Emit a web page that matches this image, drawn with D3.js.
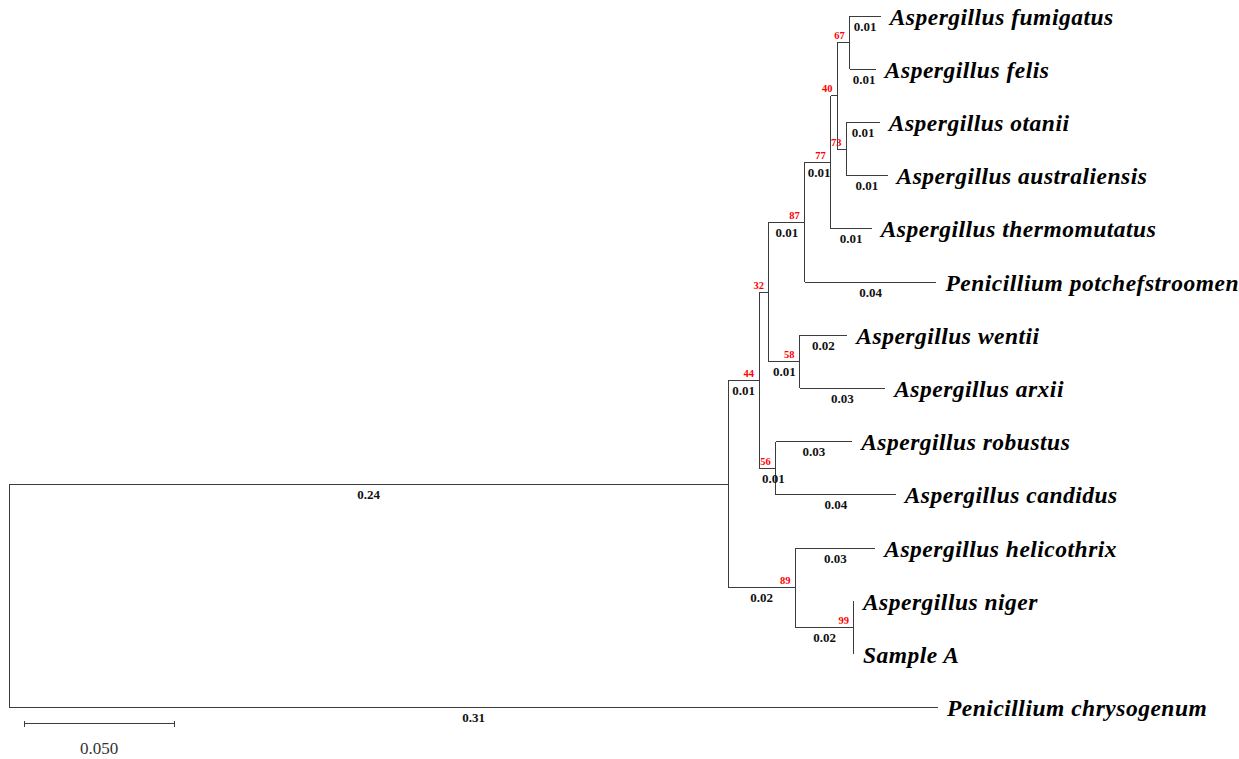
<!DOCTYPE html>
<html>
<head>
<meta charset="utf-8">
<script src="https://cdn.jsdelivr.net/npm/d3@7"></script>
<style>
  html, body { margin: 0; padding: 0; background: #fff; overflow: hidden; }
  svg { display: block; }
</style>
</head>
<body>
<svg id="tree" width="1239" height="759"></svg>
<script>
// Leaf order, top to bottom
const taxa = [
  "Aspergillus fumigatus",
  "Aspergillus felis",
  "Aspergillus otanii",
  "Aspergillus australiensis",
  "Aspergillus thermomutatus",
  "Penicillium potchefstroomensis",
  "Aspergillus wentii",
  "Aspergillus arxii",
  "Aspergillus robustus",
  "Aspergillus candidus",
  "Aspergillus helicothrix",
  "Aspergillus niger",
  "Sample A",
  "Penicillium chrysogenum"
];

// Tree topology: node id, parent id, branch length (substitutions/site), bootstrap support
const nodeIds = [
  "root", "ingroup", "Penicillium chrysogenum",
  "n44", "n89", "n32", "n56", "n87", "n58", "n77",
  "Penicillium potchefstroomensis", "n40", "Aspergillus thermomutatus",
  "n67", "n73",
  "Aspergillus fumigatus", "Aspergillus felis",
  "Aspergillus otanii", "Aspergillus australiensis",
  "Aspergillus wentii", "Aspergillus arxii",
  "Aspergillus robustus", "Aspergillus candidus",
  "Aspergillus helicothrix", "n99",
  "Aspergillus niger", "Sample A"
];
const parentIds = [
  "", "root", "root",
  "ingroup", "ingroup", "n44", "n44", "n32", "n32", "n87",
  "n87", "n77", "n77",
  "n40", "n40",
  "n67", "n67",
  "n73", "n73",
  "n58", "n58",
  "n56", "n56",
  "n89", "n89",
  "n99", "n99"
];
const branchLengths = [
  0, 0.2395, 0.3094,
  0.0103, 0.0224, 0.0033, 0.0056, 0.0119, 0.0102, 0.0087,
  0.0439, 0.0022, 0.0136,
  0.0041, 0.0030,
  0.0103, 0.0087,
  0.0111, 0.0137,
  0.0159, 0.0285,
  0.0254, 0.0399,
  0.0266, 0.0195,
  0, 0
];
const bootstrap = [
  null, null, null,
  44, 89, 32, 56, 87, 58, 77,
  null, 40, null,
  67, 73,
  null, null,
  null, null,
  null, null,
  null, null,
  null, 99,
  null, null
];
const scaleBarValue = 0.05;
const scaleBarLabel = "0.050";

const rows = nodeIds.map((id, i) => ({
  id, parent: parentIds[i] || null, length: branchLengths[i], support: bootstrap[i]
}));
const root = d3.stratify().id(d => d.id).parentId(d => d.parent)(rows);

// Cumulative distance from root
root.each(n => { n.dist = n.parent ? n.parent.dist + n.data.length : 0; });
const maxDist = d3.max(root.leaves(), n => n.dist);

const x = d3.scaleLinear().domain([0, maxDist]).range([9, 938]);
const y = d3.scalePoint().domain(taxa).range([16, 707.7]);

root.eachAfter(n => {
  n.px = x(n.dist);
  if (!n.children) n.py = y(n.id);
  else {
    const ys = n.children.map(c => c.py);
    n.py = (d3.min(ys) + d3.max(ys)) / 2;
  }
});

const svg = d3.select("#tree");
svg.append("rect").attr("width", 1239).attr("height", 759).attr("fill", "#fff");

const lineColor = "#3c3c3c";
const g = svg.append("g");

// Horizontal branches
g.selectAll("line.h")
  .data(root.descendants().filter(n => n.parent && n.data.length > 0))
  .join("line")
  .attr("class", "h")
  .attr("x1", n => n.parent.px).attr("x2", n => n.px)
  .attr("y1", n => n.py).attr("y2", n => n.py)
  .attr("stroke", lineColor).attr("stroke-width", 1)
  .attr("shape-rendering", "crispEdges");

// Vertical connectors
g.selectAll("line.v")
  .data(root.descendants().filter(n => n.children))
  .join("line")
  .attr("class", "v")
  .attr("x1", n => n.px).attr("x2", n => n.px)
  .attr("y1", n => d3.min(n.children, c => c.py))
  .attr("y2", n => d3.max(n.children, c => c.py))
  .attr("stroke", lineColor).attr("stroke-width", 1)
  .attr("shape-rendering", "crispEdges");

// Branch length labels (hidden when they round to 0.00)
const fmt = d3.format(".2f");
const lenLabels = g.selectAll("text.len")
  .data(root.descendants().filter(n => n.parent && fmt(n.data.length) !== "0.00"))
  .join("text")
  .attr("class", "len")
  .attr("font-family", "'Liberation Serif', serif")
  .attr("font-weight", "bold")
  .attr("font-size", 13)
  .attr("fill", "#111")
  .attr("text-anchor", "middle")
  .attr("y", n => n.py + 14.5)
  .text(n => fmt(n.data.length));
lenLabels.each(function(n) {
  const w = this.getComputedTextLength();
  const mid = (n.parent.px + n.px) / 2;
  d3.select(this).attr("x", Math.max(mid, n.parent.px + w / 2 + 3));
});

// Bootstrap support values
g.selectAll("text.boot")
  .data(root.descendants().filter(n => n.data.support != null))
  .join("text")
  .attr("class", "boot")
  .attr("font-family", "'Liberation Serif', serif")
  .attr("font-weight", "bold")
  .attr("font-size", 10.5)
  .attr("fill", "#ff0000")
  .attr("text-anchor", "end")
  .attr("x", n => n.px - 5)
  .attr("y", n => n.py - 3.5)
  .text(n => n.data.support);

// Taxon names
g.selectAll("text.taxon")
  .data(root.leaves())
  .join("text")
  .attr("class", "taxon")
  .attr("font-family", "'Liberation Serif', serif")
  .attr("font-weight", "bold")
  .attr("font-style", "italic")
  .attr("font-size", 23.5)
  .attr("letter-spacing", 0.5)
  .attr("fill", "#000")
  .attr("x", n => n.px + 9)
  .attr("y", n => n.py + 8.5)
  .text(n => n.id);

// Scale bar
const sb = svg.append("g").attr("transform", "translate(24,723.5)");
const sbLen = x(scaleBarValue) - x(0);
sb.append("line").attr("x1", 0).attr("x2", sbLen).attr("y1", 0).attr("y2", 0)
  .attr("stroke", lineColor).attr("stroke-width", 1).attr("shape-rendering", "crispEdges");
[0, sbLen].forEach(px => sb.append("line")
  .attr("x1", px).attr("x2", px).attr("y1", -3).attr("y2", 3)
  .attr("stroke", lineColor).attr("stroke-width", 1).attr("shape-rendering", "crispEdges"));
sb.append("text")
  .attr("x", sbLen / 2).attr("y", 30.5)
  .attr("text-anchor", "middle")
  .attr("font-family", "'Liberation Serif', serif")
  .attr("font-size", 17)
  .attr("fill", "#333")
  .text(scaleBarLabel);
</script>
</body>
</html>
